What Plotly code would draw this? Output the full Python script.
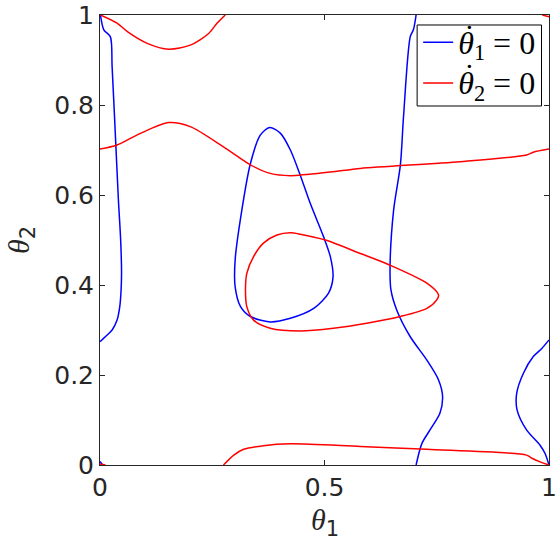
import plotly.graph_objects as go

# theta1-dot = 0 nullcline pieces (blue)
blue_a_x = [0.001, 0.0085, 0.023, 0.027, 0.034, 0.041, 0.046, 0.048, 0.047, 0.044, 0.038, 0.027, 0.016, 0.0]
blue_a_y = [1.0, 0.967, 0.952, 0.885, 0.738, 0.589, 0.5, 0.427, 0.389, 0.352, 0.322, 0.3, 0.289, 0.274]

blue_b_x = [0.378, 0.402, 0.424, 0.446, 0.468, 0.498, 0.513, 0.519, 0.509, 0.476, 0.424, 0.379, 0.335, 0.313, 0.301, 0.301, 0.316, 0.335, 0.357, 0.378]
blue_b_y = [0.750, 0.737, 0.700, 0.644, 0.582, 0.507, 0.463, 0.418, 0.382, 0.348, 0.326, 0.318, 0.330, 0.352, 0.396, 0.456, 0.567, 0.670, 0.733, 0.750]

blue_c_x = [0.704, 0.698, 0.691, 0.676, 0.669, 0.654, 0.646, 0.648, 0.661, 0.691, 0.728, 0.754, 0.763, 0.757, 0.735, 0.717, 0.704]
blue_c_y = [1.0, 0.967, 0.952, 0.774, 0.667, 0.567, 0.441, 0.389, 0.344, 0.285, 0.233, 0.189, 0.152, 0.115, 0.078, 0.048, 0.0]

blue_d_x = [1.0, 0.984, 0.965, 0.943, 0.928, 0.929, 0.950, 0.980, 0.991, 1.0]
blue_d_y = [0.278, 0.259, 0.241, 0.204, 0.159, 0.122, 0.078, 0.044, 0.026, 0.0]

blue_e_x = [0.0, 0.006]
blue_e_y = [0.008, 0.0]

# theta2-dot = 0 nullcline pieces (red)
red_a_x = [0.001, 0.038, 0.061, 0.105, 0.153, 0.201, 0.242, 0.261, 0.279]
red_a_y = [1.0, 0.982, 0.963, 0.937, 0.924, 0.933, 0.959, 0.982, 1.0]

red_b_x = [0.0, 0.038, 0.090, 0.153, 0.201, 0.275, 0.335, 0.379, 0.424, 0.513, 0.580, 0.802, 0.950, 0.965, 1.0]
red_b_y = [0.702, 0.711, 0.737, 0.761, 0.752, 0.707, 0.667, 0.648, 0.643, 0.651, 0.659, 0.674, 0.689, 0.695, 0.702]

red_c_x = [0.754, 0.728, 0.646, 0.580, 0.502, 0.446, 0.424, 0.394, 0.364, 0.342, 0.327, 0.324, 0.327, 0.342, 0.379, 0.446, 0.520, 0.594, 0.669, 0.728, 0.750, 0.754]
red_c_y = [0.378, 0.404, 0.444, 0.470, 0.500, 0.513, 0.516, 0.511, 0.493, 0.463, 0.426, 0.389, 0.352, 0.322, 0.304, 0.298, 0.304, 0.315, 0.330, 0.348, 0.367, 0.378]

red_d_x = [0.275, 0.298, 0.320, 0.364, 0.424, 0.580, 0.728, 0.950, 0.962, 0.980, 1.0]
red_d_y = [0.0, 0.022, 0.035, 0.043, 0.047, 0.041, 0.035, 0.022, 0.015, 0.007, 0.0]

red_e_x = [0.0, 0.012]
red_e_y = [0.002, 0.0]

red_f_x = [0.985, 1.0]
red_f_y = [1.0, 0.996]

x_ticks = [0, 0.5, 1]
x_tick_text = ["0", "0.5", "1"]
y_ticks = [0, 0.2, 0.4, 0.6, 0.8, 1]
y_tick_text = ["0", "0.2", "0.4", "0.6", "0.8", "1"]

BLUE = "#0000ff"
RED = "#ff0000"
AX = "#262626"
SANS = "DejaVu Sans"
SERIF = "Liberation Serif"
LEG = "<span style='font-size:32px'><i>θ</i><sub>{}</sub> = 0</span>"

fig = go.Figure()
blue = [(blue_a_x, blue_a_y), (blue_b_x, blue_b_y), (blue_c_x, blue_c_y),
        (blue_d_x, blue_d_y), (blue_e_x, blue_e_y)]
red = [(red_a_x, red_a_y), (red_b_x, red_b_y), (red_c_x, red_c_y),
       (red_d_x, red_d_y), (red_e_x, red_e_y), (red_f_x, red_f_y)]
for i, (xs, ys) in enumerate(blue):
    fig.add_trace(go.Scatter(x=xs, y=ys, mode="lines",
                             line=dict(color=BLUE, width=1.5, shape="spline", smoothing=0.8),
                             name=LEG.format(1), legendgroup="b",
                             showlegend=(i == 0)))
for i, (xs, ys) in enumerate(red):
    fig.add_trace(go.Scatter(x=xs, y=ys, mode="lines",
                             line=dict(color=RED, width=1.5, shape="spline", smoothing=0.8),
                             name=LEG.format(2), legendgroup="r",
                             showlegend=(i == 0)))

axis_common = dict(range=[0, 1], showgrid=False, zeroline=False, showline=True,
                   linecolor=AX, linewidth=1, mirror="ticks", ticks="inside",
                   ticklen=5, tickcolor=AX, automargin=False,
                   tickfont=dict(family=SANS, size=25, color=AX))

title_theta = "<span style='font-family:" + SERIF + "'><i>θ</i></span><sub>{}</sub>"

dot_font = dict(family=SERIF, size=32, color="black")

fig.update_layout(
    width=560, height=552,
    margin=dict(l=100, r=11, t=15, b=87),
    paper_bgcolor="white", plot_bgcolor="white",
    xaxis=dict(tickvals=x_ticks, ticktext=x_tick_text, **axis_common),
    yaxis=dict(tickvals=y_ticks, ticktext=y_tick_text, ticksuffix="\u2009", **axis_common),
    legend=dict(x=0.7086, y=0.9956, xanchor="left", yanchor="top",
                bgcolor="rgba(0,0,0,0)", borderwidth=0,
                font=dict(family=SERIF, size=29, color="black"),
                itemwidth=30, tracegroupgap=0),
    showlegend=True,
    shapes=[
        # legend frame
        dict(type="rect", xref="paper", yref="paper", x0=0.7063, x1=0.9833,
             y0=0.7978, y1=0.9778, fillcolor="white",
             line=dict(color="black", width=1), layer="above"),
    ],
    annotations=[
        dict(text=title_theta.format(1),
             xref="paper", yref="paper", x=0.5, y=0, xanchor="center", yanchor="top",
             yshift=-36, showarrow=False, font=dict(family=SANS, size=30, color=AX)),
        dict(text=title_theta.format(2),
             xref="paper", yref="paper", x=0, y=0.5, xanchor="right", yanchor="middle",
             xshift=-58, yshift=0, textangle=-90, showarrow=False,
             font=dict(family=SANS, size=30, color=AX)),
        # time-derivative dots over the legend thetas
        dict(text="˙", xref="paper", yref="paper", x=0.8220, y=0.9533,
             xanchor="center", yanchor="middle", showarrow=False, font=dot_font),
        dict(text="˙", xref="paper", yref="paper", x=0.8220, y=0.8667,
             xanchor="center", yanchor="middle", showarrow=False, font=dot_font),
    ],
)

fig.write_html("out.html", config={"displayModeBar": False},
               post_script="document.body.style.margin='0px';")
